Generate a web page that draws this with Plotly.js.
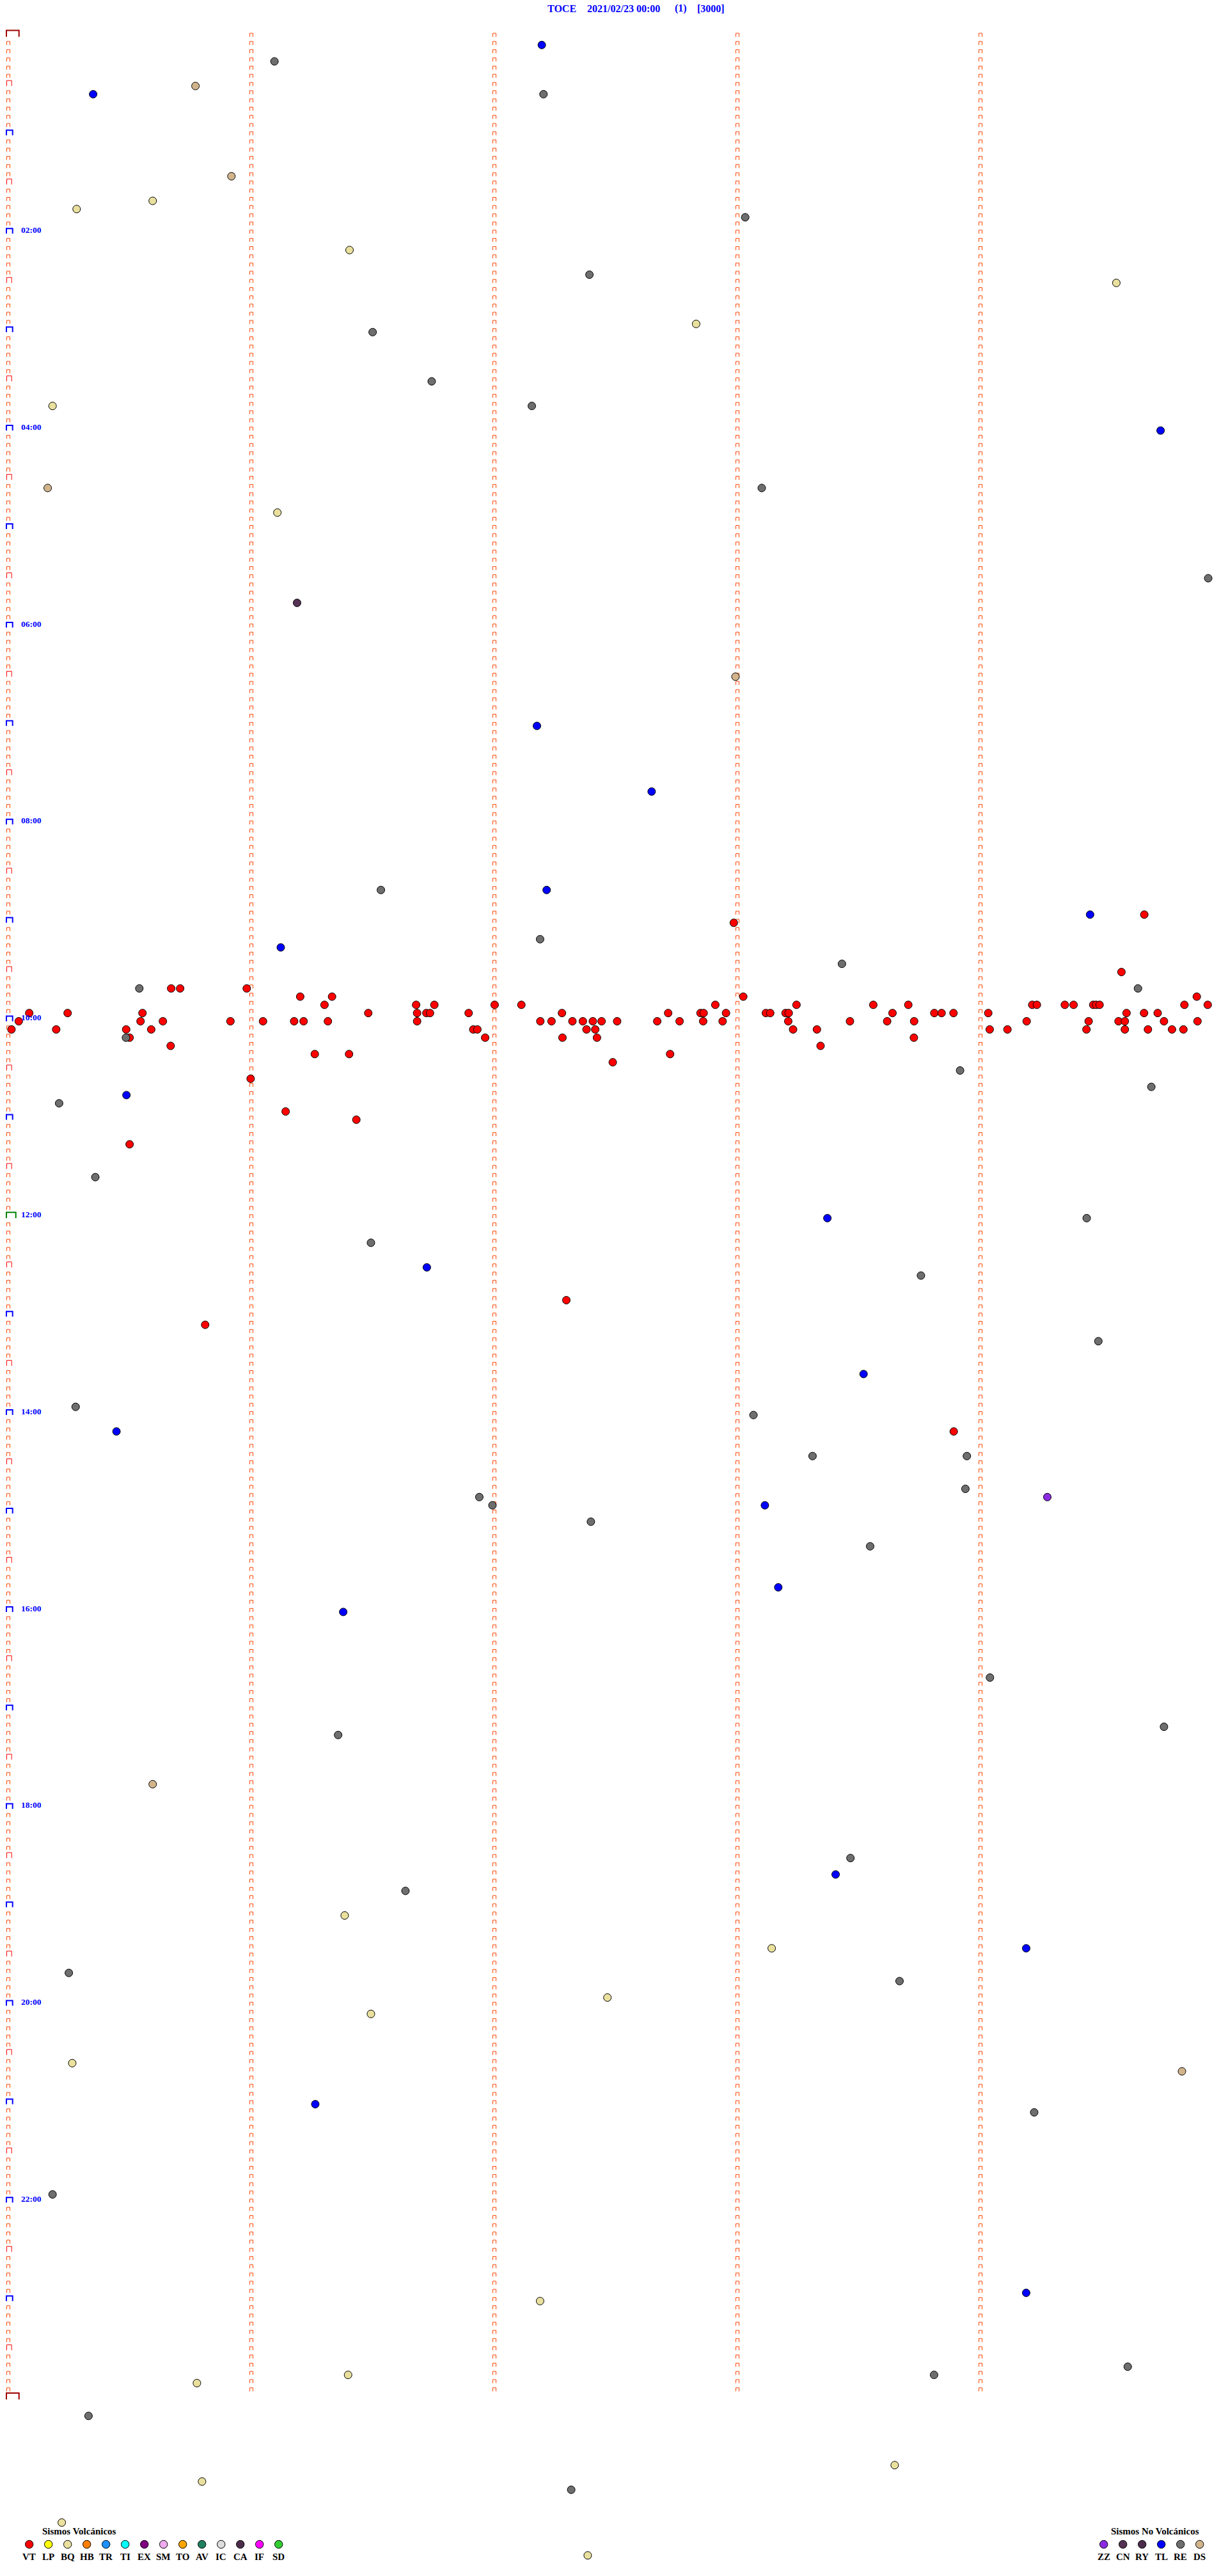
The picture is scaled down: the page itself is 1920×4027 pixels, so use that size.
<!DOCTYPE html>
<html><head><meta charset="utf-8">
<script src="https://cdn.plot.ly/plotly-3.0.1.min.js"></script>
<style>html,body{margin:0;padding:0;background:#fff}#chart{width:1920px;height:4027px}</style>
</head><body><div id="chart"></div>
<script>
// ---- text ----
const station = "TOCE";
const dateLabel = "2021/02/23 00:00";
const pageLabel = "(1)";
const scaleLabel = "[3000]";
const hourLabels = ["02:00","04:00","06:00","08:00","10:00","12:00","14:00","16:00","18:00","20:00","22:00"];
const hourLabelHours = [2,4,6,8,10,12,14,16,18,20,22];

// ---- legend ----
const volcTypes = ["VT","LP","BQ","HB","TR","TI","EX","SM","TO","AV","IC","CA","IF","SD"];
const volcColors = ["#FF0000","#FFFF00","#EAE09E","#FF8000","#1E90FF","#00FFFF","#800080","#EEAAEE","#FFA500","#208060","#DCDCDC","#4B2D4B","#FF00FF","#32CD32"];
const nonVolcTypes = ["ZZ","CN","RY","TL","RE","DS"];
const nonVolcColors = ["#8A2BE2","#553355","#4B2D4B","#0000FF","#6E6E6E","#D2B48C"];

// ---- events: minutes after 00:00 (row = 5-minute line, x = minute within the line) ----
const VT_min = [539.674,542.985,574.580,580.670,580.707,580.981,586.201,586.332,588.024,589.890,
591.301,591.678,591.753,592.001,592.111,592.909,593.243,593.559,593.703,594.213,594.232,594.347,594.383,594.464,594.476,594.490,594.839,594.935,
595.086,595.244,595.552,596.481,596.682,596.720,596.735,596.894,597.278,597.715,597.848,597.861,597.953,598.117,598.135,598.198,598.211,598.638,598.810,598.840,598.889,599.032,599.601,599.673,599.729,
600.043,600.544,600.636,600.914,601.048,601.176,601.215,601.315,601.682,602.189,602.235,602.321,602.364,602.405,602.441,602.505,602.670,602.762,602.859,602.939,603.209,603.463,603.616,603.727,604.190,604.445,604.568,604.594,604.755,604.893,
605.013,605.197,605.485,605.588,606.913,606.930,607.379,607.415,608.229,608.327,609.038,609.111,609.436,609.594,609.689,609.788,609.835,
610.499,611.962,612.280,612.422,613.726,615.668,618.342,621.261,621.402,622.723,627.487,635.997,656.141,661.432,675.499,772.296,785.810,853.890];
const BQ_min = [100.594,105.281,131.404,154.559,177.830,225.182,291.107,1146.384,1168.141,1197.465,1206.492,1235.263,1382.188,1426.398,1430.776,1483.647,1490.797,1515.220,1537.384];
const DS_min = [30.770,85.918,275.162,392.992,1065.594,1244.829];
const TL_min = [7.195,35.349,244.741,422.175,462.647,522.215,539.451,556.121,645.486,723.370,751.722,818.519,850.445,898.113,948.168,961.378,1123.404,1169.188,1261.263,1379.188];
const RE_min = [16.095,37.202,113.032,147.391,181.499,211.742,227.154,278.100,334.937,521.533,552.188,568.430,580.539,584.648,610.484,633.916,644.703,650.209,695.358,724.437,736.492,758.755,799.485,835.277,843.066,868.309,868.944,888.938,891.938,896.992,907.397,923.546,1004.039,1034.755,1036.357,1113.465,1131.634,1180.249,1188.667,1269.221,1315.182,1424.606,1428.809,1450.330,1497.316];
const CN_min = [346.188];
const ZZ_min = [894.275];

// ---- geometry ----
const W = 1920, H = 4027;
const PX_PER_MIN = 380, X0_PX = 13;      // x: minute within 5-min line
const PX_PER_ROW = 12.825, Y0_PX = 57.5; // y: 5-min line index
const MIN_PER_ROW = 5, ROWS = 288;
const COLUMNS = [0,1,2,3,4];

function pxToX(px){ return (px - X0_PX) / PX_PER_MIN; }
function glyph(ax, ay, lpx, rpx, hpx, row){
  const xl = pxToX(lpx), xr = pxToX(rpx), yt = row - hpx / PX_PER_ROW;
  ax.push(xl, xl, xr, xr, null); ay.push(row, yt, yt, row, null);
}

const styles = {
  small: {c:"#FF4500", w:1, l:10.5, r:15.5, h:5.5, x:[], y:[]},
  half:  {c:"#FF0000", w:1, l:10.5, r:18.2, h:8.5, x:[], y:[]},
  hour:  {c:"#0000FF", w:2, l:10.0, r:19.7, h:8.0, x:[], y:[]},
  noon:  {c:"#008000", w:2, l:10.0, r:24.7, h:9.0, x:[], y:[]},
  day:   {c:"#A00000", w:2, l:10.0, r:29.7, h:10.0, x:[], y:[]}
};
COLUMNS.forEach(c => {
  const last = c === 0 ? ROWS : ROWS - 1;
  for (let k = 0; k <= last; k++) {
    let s = styles.small;
    if (c === 0) {
      if (k === 0 || k === ROWS) s = styles.day;
      else if (k === ROWS/2) s = styles.noon;
      else if (k % 12 === 0) s = styles.hour;
      else if (k % 6 === 0) s = styles.half;
    }
    glyph(s.x, s.y, s.l + c*PX_PER_MIN, s.r + c*PX_PER_MIN, s.h, k);
  }
});

const traces = [];
Object.values(styles).forEach(s => traces.push({
  type:"scatter", mode:"lines", x:s.x, y:s.y, connectgaps:false,
  line:{color:s.c, width:s.w}, hoverinfo:"skip"
}));

function colorOf(t){
  let i = volcTypes.indexOf(t); if (i >= 0) return volcColors[i];
  return nonVolcColors[nonVolcTypes.indexOf(t)];
}
const events = [["VT",VT_min],["BQ",BQ_min],["DS",DS_min],["TL",TL_min],["RE",RE_min],["CN",CN_min],["ZZ",ZZ_min]];
events.forEach(([t, arr]) => traces.push({
  type:"scatter", mode:"markers", name:t,
  x: arr.map(m => m % MIN_PER_ROW),
  y: arr.map(m => Math.floor(m / MIN_PER_ROW)),
  marker:{size:12, color:colorOf(t), line:{color:"#000000", width:1}},
  hoverinfo:"skip"
}));

const SERIF = "Liberation Serif, Times New Roman, serif";
const annotations = [];
// title
[[station,854],[dateLabel,915.7],[pageLabel,1053],[scaleLabel,1087.7]].forEach(([t,px]) => annotations.push({
  xref:"paper", yref:"paper", x:px/W, y:1-13/H, xanchor:"left", yanchor:"middle",
  text:"<b>"+t+"</b>", showarrow:false, font:{family:SERIF, size:16, color:"#0000FF"}
}));
// hour labels
hourLabels.forEach((t,i) => annotations.push({
  xref:"x", yref:"y", x:pxToX(31), y:hourLabelHours[i]*12 - 0.45, xanchor:"left", yanchor:"middle",
  text:"<b>"+t+"</b>", showarrow:false, font:{family:SERIF, size:13.5, color:"#0000FF"}
}));
// legend
const shapes = [];
function legendRow(types, colors, startPx, headText, headPx){
  annotations.push({xref:"paper", yref:"paper", x:headPx/W, y:1-3957/H, xanchor:"center", yanchor:"middle",
    text:"<b>"+headText+"</b>", showarrow:false, font:{family:SERIF, size:15, color:"#000000"}});
  types.forEach((t,i) => {
    const px = startPx + 30*i;
    shapes.push({type:"circle", xref:"paper", yref:"paper", xsizemode:"pixel", ysizemode:"pixel",
      xanchor:px/W, yanchor:1-3977.5/H, x0:-6.2, x1:6.2, y0:-6.2, y1:6.2,
      fillcolor:colors[i], line:{color:"#000000", width:1}});
    annotations.push({xref:"paper", yref:"paper", x:px/W, y:1-3997/H, xanchor:"center", yanchor:"middle",
      text:"<b>"+t+"</b>", showarrow:false, font:{family:SERIF, size:15, color:"#000000"}});
  });
}
legendRow(volcTypes, volcColors, 45.7, "Sismos Volcánicos", 124);
legendRow(nonVolcTypes, nonVolcColors, 1725.7, "Sismos No Volcánicos", 1806);

const layout = {
  width:W, height:H, margin:{l:0,r:0,t:0,b:0,pad:0},
  paper_bgcolor:"#FFFFFF", plot_bgcolor:"#FFFFFF", showlegend:false, hovermode:false,
  xaxis:{range:[pxToX(0), pxToX(W)], visible:false, fixedrange:true},
  yaxis:{range:[(H - Y0_PX)/PX_PER_ROW, -Y0_PX/PX_PER_ROW], visible:false, fixedrange:true},
  annotations, shapes
};
Plotly.newPlot("chart", traces, layout, {staticPlot:true, displayModeBar:false});
</script></body></html>
